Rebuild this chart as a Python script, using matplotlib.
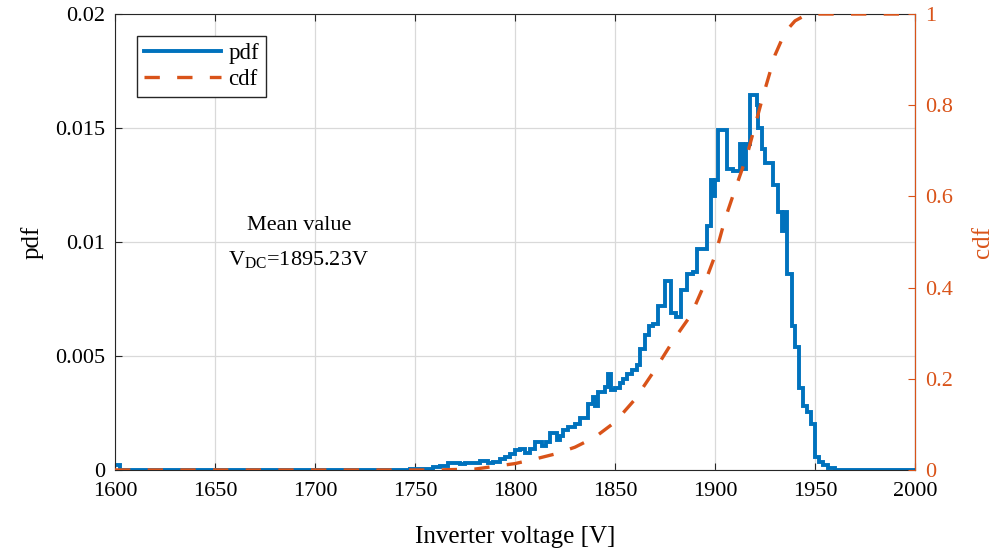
import matplotlib
matplotlib.use("Agg")
import matplotlib.pyplot as plt

plt.rcParams['font.family'] = ['Liberation Serif', 'DejaVu Serif']
plt.rcParams['mathtext.fontset'] = 'custom'
plt.rcParams['mathtext.rm'] = 'Liberation Serif'

# ---------------------------------------------------------------
# histogram of inverter voltage (bin edges [V] and pdf values)
# ---------------------------------------------------------------
edges = [1600, 1602.5, 1747.5, 1759, 1762.5, 1766.5, 1772.5, 1775, 1782.5,
         1786.5, 1789, 1792.5, 1795, 1797.5, 1800, 1802.5, 1805, 1807.5,
         1810, 1813.5, 1815.5, 1817.5, 1821, 1822.5, 1824, 1826.5, 1830,
         1832.5, 1836.5, 1839, 1840.2, 1841.5, 1845, 1846.5, 1848, 1850,
         1852.5, 1854, 1856, 1858.3, 1860.8, 1862.5, 1865, 1867, 1869,
         1871.7, 1875, 1878, 1880.5, 1883, 1886, 1889, 1891, 1896, 1898,
         1899, 1900, 1901.7, 1906, 1909, 1912.5, 1914, 1915.5, 1917.5,
         1920.8, 1921.5, 1923.3, 1925, 1929.2, 1931.7, 1933.3, 1934.5,
         1935.8, 1938.3, 1940, 1942, 1944, 1946, 1948, 1950, 1952, 1954,
         1956.7, 1960, 2000]
pdf = [0.0002, 0.0, 0.00005, 0.00012, 0.00018, 0.0003, 0.00027, 0.0003,
       0.0004, 0.0003, 0.00037, 0.00047, 0.00058, 0.00068, 0.00088, 0.0009,
       0.00075, 0.0009, 0.00124, 0.00103, 0.00122, 0.0016, 0.0013, 0.0015,
       0.00175, 0.0019, 0.0020, 0.00227, 0.0029, 0.0032, 0.0028, 0.0034,
       0.00365, 0.0042, 0.0035, 0.0036, 0.0038, 0.0040, 0.0042, 0.0044,
       0.0046, 0.0053, 0.0059, 0.0063, 0.0064, 0.0072, 0.0083, 0.0069,
       0.0067, 0.0079, 0.0086, 0.0087, 0.0097, 0.0107, 0.0127, 0.0120,
       0.0127, 0.0149, 0.0132, 0.0131, 0.0143, 0.0132, 0.0143, 0.01645,
       0.0160, 0.0150, 0.0141, 0.01346, 0.0125, 0.0113, 0.0105, 0.0113,
       0.0086, 0.0063, 0.0054, 0.0036, 0.0028, 0.00255, 0.0020, 0.00057,
       0.00035, 0.00022, 0.0001, 0.0]

# cdf
cdf_v = [1600, 1760, 1780, 1790, 1800, 1810, 1820, 1830, 1840, 1850, 1860,
         1870, 1880, 1888, 1894, 1900, 1905, 1910, 1916, 1920, 1924, 1930,
         1935, 1940, 1945, 1950, 2000]
cdf = [0, 0, 0.002, 0.008, 0.014, 0.024, 0.035, 0.05, 0.072, 0.105, 0.155,
       0.22, 0.29, 0.34, 0.40, 0.47, 0.55, 0.615, 0.69, 0.755, 0.82, 0.91,
       0.96, 0.985, 0.997, 1.0, 1.0]

xticks = [1600, 1650, 1700, 1750, 1800, 1850, 1900, 1950, 2000]
yticks = [0, 0.005, 0.01, 0.015, 0.02]
ytick_labels = ['0', '0.005', '0.01', '0.015', '0.02']
y2ticks = [0, 0.2, 0.4, 0.6, 0.8, 1]
y2tick_labels = ['0', '0.2', '0.4', '0.6', '0.8', '1']

blue = '#0072BD'
orange = '#D95319'

fig = plt.figure(figsize=(10.01, 5.52), dpi=100)
ax = fig.add_axes([0.1149, 0.1486, 0.7992, 0.826])
ax2 = ax.twinx()

l1 = ax.stairs(pdf, edges, color=blue, linewidth=2.8, baseline=None, label='pdf')
l2, = ax2.plot(cdf_v, cdf, color=orange, linewidth=2.4, dashes=(4.6, 5.2), label='cdf')

ax.set_xlim(1600, 2000)
ax.set_ylim(0, 0.02)
ax2.set_ylim(0, 1)
ax.set_xticks(xticks)
ax.set_yticks(yticks)
ax.set_yticklabels(ytick_labels)
ax2.set_yticks(y2ticks)
ax2.set_yticklabels(y2tick_labels)

ax.grid(True, color='#d9d9d9', linewidth=0.9)
ax.set_axisbelow(True)
ax.tick_params(direction='in', length=5, labelsize=16, top=True, colors='#262626', pad=7)
ax.tick_params(axis='x', pad=8.5)
ax.tick_params(axis='both', labelcolor='black')
ax2.tick_params(direction='in', length=5, labelsize=16, colors=orange, pad=7)
for s in ['left', 'bottom', 'top']:
    ax.spines[s].set_color('#262626')
ax2.spines['right'].set_color(orange)
for s in ['left', 'bottom', 'top']:
    ax2.spines[s].set_visible(False)

ax.set_xlabel('Inverter voltage [V]', fontsize=18, labelpad=18)
ax.set_ylabel('pdf', fontsize=18, labelpad=8)
ax2.set_ylabel('cdf', fontsize=18, color=orange, labelpad=14)

ax.text(1692, 0.01053, 'Mean value', fontsize=16, ha='center', va='baseline')
ax.text(1692, 0.0090, r'$\mathrm{V_{DC}}$=1895.23V', fontsize=16, ha='center', va='baseline')

leg = ax2.legend([l1, l2], ['pdf', 'cdf'], loc='upper left',
                 bbox_to_anchor=(136.7 / 1001, 1 - 35.7 / 552),
                 bbox_transform=fig.transFigure, fontsize=16.5,
                 fancybox=False, edgecolor='#262626', framealpha=1,
                 handlelength=3.4, borderpad=0.3, labelspacing=0.25,
                 handletextpad=0.3, borderaxespad=0)
leg.get_frame().set_linewidth(1.0)

fig.savefig('out.png', dpi=100)
